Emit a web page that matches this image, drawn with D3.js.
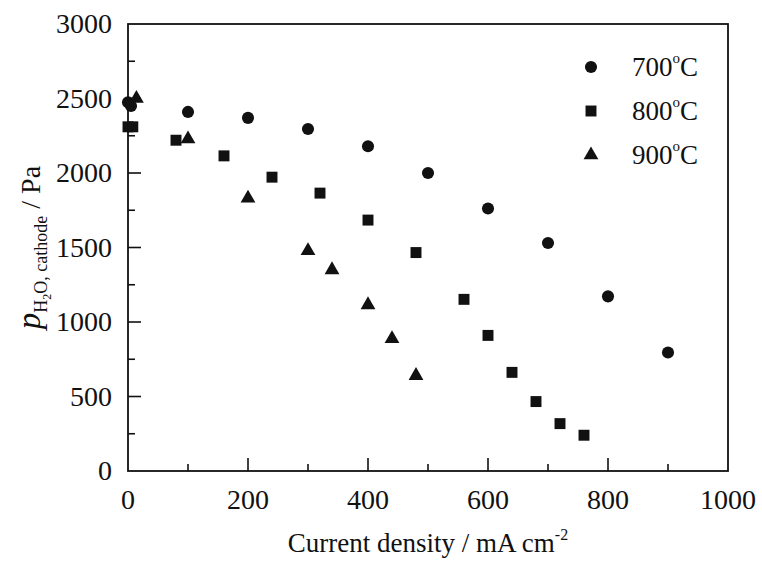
<!DOCTYPE html>
<html>
<head>
<meta charset="utf-8">
<script src="https://cdn.jsdelivr.net/npm/d3@7"></script>
<style>
  body { margin: 0; background: #fff; }
</style>
</head>
<body>
<svg id="chart" width="762" height="568"></svg>
<script>
// readings
const x700 = [0, 5, 100, 200, 300, 400, 500, 600, 700, 800, 900];
const y700 = [2475, 2450, 2410, 2370, 2295, 2180, 2000, 1762, 1530, 1172, 795];
const x800 = [0, 8, 80, 160, 240, 320, 400, 480, 560, 600, 640, 680, 720, 760];
const y800 = [2310, 2310, 2220, 2115, 1972, 1865, 1684, 1466, 1152, 910, 662, 466, 318, 240];
const x900 = [14, 100, 200, 300, 340, 400, 440, 480];
const y900 = [2500, 2228, 1830, 1478, 1350, 1115, 888, 640];
const seriesNames = ["700", "800", "900"];
const xTicks = [0, 200, 400, 600, 800, 1000];
const yTicks = [0, 500, 1000, 1500, 2000, 2500, 3000];

const FONT = '"Liberation Serif", "Times New Roman", serif';
const svg = d3.select("#chart");
const margin = {top: 24, right: 34, bottom: 97, left: 128};
const width = 762, height = 568;

const x = d3.scaleLinear().domain([0, 1000]).range([margin.left, width - margin.right]);
const y = d3.scaleLinear().domain([0, 3000]).range([height - margin.bottom, margin.top]);

const label = () => svg.append("text").style("font-family", FONT).attr("fill", "#111");

// frame
svg.append("rect")
    .attr("x", x(0)).attr("y", y(3000))
    .attr("width", x(1000) - x(0)).attr("height", y(0) - y(3000))
    .attr("fill", "none").attr("stroke", "#111").attr("stroke-width", 1.8);

// ticks, pointing inward
const g = svg.append("g").attr("stroke", "#111").attr("stroke-width", 1.6);
d3.range(100, 1000, 100).forEach(v => {
    const len = v % 200 === 0 ? 13 : 7;
    g.append("line").attr("x1", x(v)).attr("x2", x(v)).attr("y1", y(0)).attr("y2", y(0) - len);
});
d3.range(250, 3000, 250).forEach(v => {
    const len = v % 500 === 0 ? 13 : 7;
    g.append("line").attr("x1", x(0)).attr("x2", x(0) + len).attr("y1", y(v)).attr("y2", y(v));
});

// tick labels
xTicks.forEach(d => {
    label().attr("x", x(d)).attr("y", y(0) + 38)
        .attr("text-anchor", "middle").attr("font-size", 28).text(d);
});
yTicks.forEach(d => {
    label().attr("x", x(0) - 16).attr("y", d => y(d) + 9)
        .attr("y", y(d) + 9)
        .attr("text-anchor", "end").attr("font-size", 28).text(d);
});

// axis titles
const xt = label()
    .attr("x", (x(0) + x(1000)) / 2).attr("y", 552)
    .attr("text-anchor", "middle").attr("font-size", 27);
xt.append("tspan").text("Current density / mA cm");
xt.append("tspan").attr("font-size", 16).attr("dy", -12).text("-2");

const yt = label()
    .attr("transform", `translate(40, ${(y(0) + y(3000)) / 2}) rotate(-90)`)
    .attr("text-anchor", "middle").attr("font-size", 28);
yt.append("tspan").attr("font-style", "italic").attr("font-size", 33).text("p");
yt.append("tspan").attr("font-size", 18).attr("dy", 7).text("H");
yt.append("tspan").attr("font-size", 12).attr("dy", 4).text("2");
yt.append("tspan").attr("font-size", 18).attr("dy", -4).text("O, cathode");
yt.append("tspan").attr("dy", -7).text(" / Pa");

// points
const sym = [d3.symbolCircle, d3.symbolSquare, d3.symbolTriangle];
const sizes = [115, 120, 95];
const sets = [[x700, y700], [x800, y800], [x900, y900]];
sets.forEach(([xs, ys], i) => {
    const shape = d3.symbol().type(sym[i]).size(sizes[i]);
    svg.append("g").selectAll("path").data(xs.map((v, j) => [v, ys[j]]))
        .enter().append("path")
        .attr("d", shape)
        .attr("transform", d => `translate(${x(d[0])},${y(d[1])})`)
        .attr("fill", "#111");
});

// legend
seriesNames.forEach((name, i) => {
    const cy = 67 + i * 44;
    svg.append("path")
        .attr("d", d3.symbol().type(sym[i]).size(sizes[i])())
        .attr("transform", `translate(591,${cy})`)
        .attr("fill", "#111");
    const t = label().attr("x", 632).attr("y", cy + 9).attr("font-size", 27);
    t.append("tspan").text(name);
    t.append("tspan").attr("font-size", 15).attr("dy", -13).text("o");
    t.append("tspan").attr("dy", 13).text("C");
});
</script>
</body>
</html>
